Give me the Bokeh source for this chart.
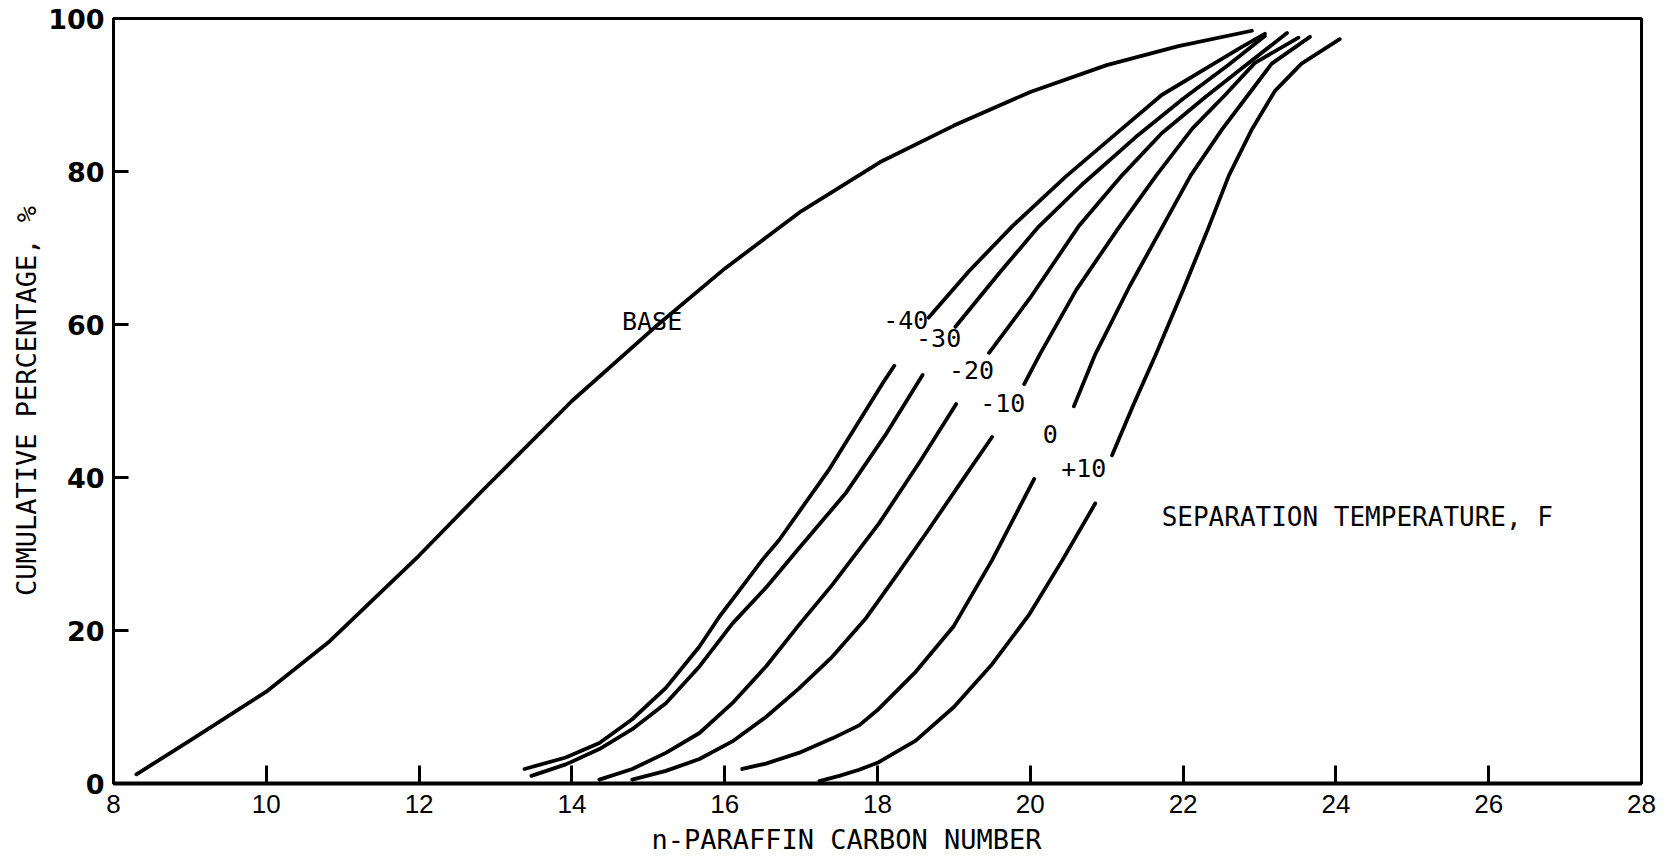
from bokeh.plotting import figure
from bokeh.models import Range1d, FixedTicker, Label, Title
from bokeh.embed import file_html
from bokeh.resources import INLINE

# Axis ticks
carbon_ticks = [8, 10, 12, 14, 16, 18, 20, 22, 24, 26, 28]
percent_ticks = [0, 20, 40, 60, 80, 100]

# Base stock cumulative distribution
base_x = [8.3, 9.0, 10.0, 10.83, 12.0, 12.83, 14.0, 15.07, 16.0, 17.0, 18.03, 19.0, 20.0, 21.0, 21.94, 22.9]
base_y = [1.2, 5.6, 12.0, 18.6, 29.8, 38.3, 50.0, 59.5, 67.3, 74.8, 81.2, 86.0, 90.4, 93.9, 96.4, 98.4]

# Separation temperature curves, each drawn as a lower and an upper piece
# (the gap between them holds the temperature label)
temps = ["-40", "-30", "-20", "-10", "0", "+10"]

lower_x = {
    "-40": [13.38, 13.92, 14.36, 14.79, 15.23, 15.67, 15.93, 16.19, 16.49, 16.71, 17.37, 18.06, 18.22],
    "-30": [13.47, 13.92, 14.36, 14.79, 15.23, 15.67, 16.10, 16.54, 16.95, 17.58, 18.1, 18.59],
    "-20": [14.36, 14.79, 15.23, 15.67, 16.10, 16.54, 16.97, 17.41, 18.02, 18.55, 19.03],
    "-10": [14.79, 15.23, 15.67, 16.10, 16.54, 16.97, 17.41, 17.84, 18.25, 18.67, 19.1, 19.5],
    "0":   [16.23, 16.54, 16.97, 17.41, 17.76, 18.0, 18.5, 19.0, 19.5, 20.05],
    "+10": [17.24, 17.5, 17.76, 18.0, 18.5, 19.0, 19.5, 19.98, 20.42, 20.85],
}
lower_y = {
    "-40": [1.9, 3.4, 5.3, 8.4, 12.5, 17.9, 21.8, 25.2, 29.2, 31.8, 41.1, 52.2, 54.6],
    "-30": [1.0, 2.5, 4.5, 7.1, 10.5, 15.3, 20.9, 25.6, 30.5, 37.9, 45.5, 53.4],
    "-20": [0.5, 1.9, 4.0, 6.6, 10.5, 15.3, 20.7, 26.0, 34.0, 42.0, 49.6],
    "-10": [0.5, 1.65, 3.2, 5.5, 8.7, 12.4, 16.6, 21.5, 27.2, 33.2, 39.5, 45.3],
    "0":   [1.9, 2.6, 4.0, 5.9, 7.6, 9.6, 14.6, 20.6, 29.2, 39.8],
    "+10": [0.3, 1.0, 1.8, 2.7, 5.6, 10.0, 15.6, 22.0, 29.2, 36.6],
}
upper_x = {
    "-40": [18.67, 19.2, 19.76, 20.46, 21.07, 21.72, 22.42, 22.77, 23.07],
    "-30": [19.02, 19.6, 20.11, 20.7, 21.38, 22.0, 22.6, 23.07],
    "-20": [19.46, 20.0, 20.63, 21.2, 21.72, 22.3, 22.77, 23.36],
    "-10": [19.92, 20.13, 20.6, 21.16, 21.65, 22.12, 22.55, 22.94, 23.51],
    "0":   [20.57, 20.85, 21.3, 21.72, 22.1, 22.51, 22.85, 23.16, 23.66],
    "+10": [21.07, 21.35, 21.64, 22.0, 22.33, 22.6, 22.9, 23.2, 23.55, 24.05],
}
upper_y = {
    "-40": [60.9, 67.0, 72.8, 79.3, 84.5, 90.0, 94.2, 96.3, 98.0],
    "-30": [59.7, 66.8, 72.8, 78.5, 84.5, 89.5, 94.0, 97.7],
    "-20": [56.3, 63.5, 72.8, 79.5, 85.0, 89.8, 93.5, 98.1],
    "-10": [52.2, 56.2, 64.5, 72.7, 79.5, 85.6, 90.0, 94.2, 97.5],
    "0":   [49.3, 56.1, 65.0, 72.6, 79.5, 85.5, 90.0, 94.1, 97.6],
    "+10": [42.9, 49.5, 56.0, 64.5, 72.6, 79.5, 85.5, 90.5, 94.1, 97.3],
}

# Where each temperature label sits (data coordinates)
label_x = {"-40": 18.37, "-30": 18.8, "-20": 19.23, "-10": 19.64, "0": 20.26, "+10": 20.7}
label_y = {"-40": 60.6, "-30": 58.3, "-20": 54.1, "-10": 49.8, "0": 45.7, "+10": 41.3}

MONO = "DejaVu Sans Mono"
LINE_W = 3.8

p = figure(
    width=1671, height=861,
    output_backend="svg", toolbar_location=None,
    x_range=Range1d(8, 28), y_range=Range1d(0, 100),
    min_border_left=113, min_border_right=30,
    min_border_top=18, min_border_bottom=78,
    background_fill_color="white", border_fill_color="white",
)
p.xgrid.visible = False
p.ygrid.visible = False
p.outline_line_color = "black"
p.outline_line_width = 3

# x axis
xa = p.xaxis[0]
xa.ticker = FixedTicker(ticks=carbon_ticks)
xa.major_label_text_font = "Liberation Sans"
xa.major_label_text_font_size = "26px"
xa.major_label_text_color = "black"
xa.major_label_standoff = 11
xa.axis_line_width = 4
xa.axis_line_color = "black"
xa.major_tick_in = 18
xa.major_tick_out = 0
xa.major_tick_line_width = 3
xa.major_tick_line_color = "black"
xa.minor_tick_line_color = None

# x axis title, set slightly left of centre under the axis
p.add_layout(Title(text="n-PARAFFIN CARBON NUMBER", align="left", offset=538,
                   text_font=MONO, text_font_size="27px", text_font_style="normal",
                   text_color="black", standoff=12), "below")

# y axis
ya = p.yaxis[0]
ya.ticker = FixedTicker(ticks=percent_ticks)
ya.axis_label = "CUMULATIVE PERCENTAGE, %"
ya.axis_label_text_font = MONO
ya.axis_label_text_font_size = "27px"
ya.axis_label_text_font_style = "normal"
ya.axis_label_text_color = "black"
ya.axis_label_standoff = 3
ya.major_label_text_font = "DejaVu Sans"
ya.major_label_text_font_style = "bold"
ya.major_label_text_font_size = "27px"
ya.major_label_text_color = "black"
ya.major_label_standoff = 9
ya.axis_line_width = 3
ya.axis_line_color = "black"
ya.major_tick_in = 15
ya.major_tick_out = 0
ya.major_tick_line_width = 3
ya.major_tick_line_color = "black"
ya.minor_tick_line_color = None

# Base curve
p.line(base_x, base_y, line_color="black", line_width=LINE_W, line_cap="round", line_join="round")
p.add_layout(Label(x=15.05, y=60.4, text="BASE", text_font=MONO, text_font_size="25px",
                   text_color="black", text_align="center", text_baseline="middle"))

# Separation temperature curves
for t in temps:
    p.line(lower_x[t], lower_y[t], line_color="black", line_width=LINE_W,
           line_cap="round", line_join="round")
    p.line(upper_x[t], upper_y[t], line_color="black", line_width=LINE_W,
           line_cap="round", line_join="round")
    p.add_layout(Label(x=label_x[t], y=label_y[t], text=t, text_font=MONO,
                       text_font_size="25px", text_color="black",
                       text_align="center", text_baseline="middle"))

p.add_layout(Label(x=24.28, y=34.8, text="SEPARATION TEMPERATURE, F", text_font=MONO,
                   text_font_size="26px", text_color="black",
                   text_align="center", text_baseline="middle"))

open("out.html", "w").write(file_html(p, INLINE))
